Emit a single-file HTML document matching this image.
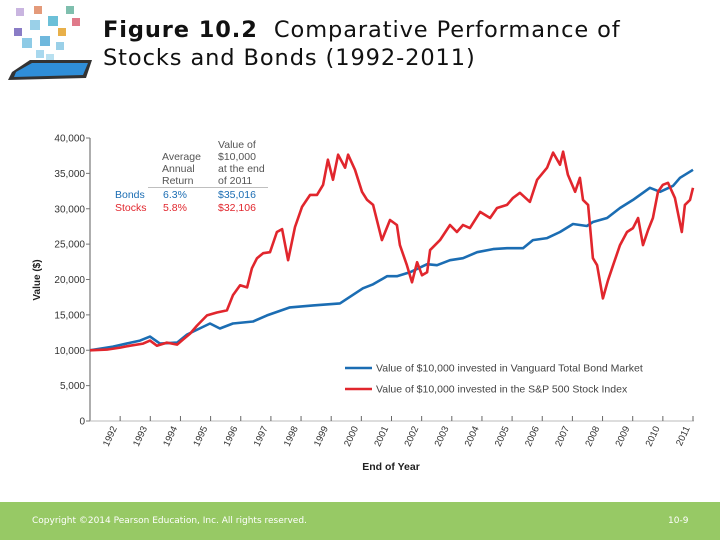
<!DOCTYPE html>
<html><head><meta charset="utf-8"><style>
body{margin:0;width:720px;height:540px;overflow:hidden;background:#fff;font-family:"DejaVu Sans","Liberation Sans",sans-serif;position:relative}
#title{position:absolute;left:103px;top:16px;font-size:22.5px;line-height:28px;color:#111;letter-spacing:0.9px}
#footer{position:absolute;left:0;top:502px;width:720px;height:38px;background:#97c965}
#footer span{position:absolute;top:14px;font-size:9px;color:#fff}
svg text{font-family:"Liberation Sans",sans-serif}
</style></head><body>
<svg width="100" height="90" style="position:absolute;left:0;top:0">
<polygon points="12,72 30,60 92,60 86,78 8,80" fill="#333"/>
<polygon points="16,72 32,63 88,63 83,75 14,77" fill="#2f8ed8"/>
<rect x="16" y="8" width="8" height="8" fill="#c9b5e0"/><rect x="34" y="6" width="8" height="8" fill="#e49a7a"/>
<rect x="66" y="6" width="8" height="8" fill="#7fbfae"/><rect x="72" y="18" width="8" height="8" fill="#e07a8a"/>
<rect x="14" y="28" width="8" height="8" fill="#8a7cc6"/><rect x="30" y="20" width="10" height="10" fill="#9ad0e8"/>
<rect x="48" y="16" width="10" height="10" fill="#6cc0d8"/><rect x="58" y="28" width="8" height="8" fill="#e8b04a"/>
<rect x="22" y="38" width="10" height="10" fill="#8ecbe6"/><rect x="40" y="36" width="10" height="10" fill="#6fb8dd"/>
<rect x="56" y="42" width="8" height="8" fill="#9ad0e8"/><rect x="36" y="50" width="8" height="8" fill="#a8d8ee"/>
<rect x="46" y="54" width="8" height="6" fill="#b8e0f0"/>
</svg>
<div id="title"><b>Figure 10.2</b>&nbsp; Comparative Performance of<br>Stocks and Bonds (1992-2011)</div>
<svg id="chart" width="720" height="500" style="position:absolute;left:0;top:0"></svg>
<div id="footer">
<span style="left:32px">Copyright ©2014 Pearson Education, Inc. All rights reserved.</span>
<span style="left:668px">10-9</span>
</div>
<script>
const yTicks=[0,5000,10000,15000,20000,25000,30000,35000,40000];
const yearLabels=[1992,1993,1994,1995,1996,1997,1998,1999,2000,2001,2002,2003,2004,2005,2006,2007,2008,2009,2010,2011];
const stockT=[1991.0,1991.56,1992.0,1992.33,1992.76,1992.99,1993.22,1993.55,1993.89,1994.08,1994.32,1994.55,1994.88,1995.21,1995.54,1995.74,1995.98,1996.21,1996.37,1996.54,1996.74,1996.97,1997.2,1997.37,1997.57,1997.8,1998.03,1998.3,1998.53,1998.73,1998.89,1999.06,1999.23,1999.46,1999.56,1999.79,2000.02,2000.19,2000.39,2000.68,2000.95,2001.18,2001.28,2001.51,2001.68,2001.85,2002.01,2002.18,2002.28,2002.61,2002.94,2003.17,2003.37,2003.6,2003.94,2004.27,2004.5,2004.83,2005.03,2005.26,2005.59,2005.83,2006.16,2006.36,2006.59,2006.69,2006.85,2007.09,2007.25,2007.35,2007.52,2007.68,2007.82,2007.92,2008.01,2008.18,2008.35,2008.58,2008.81,2009.01,2009.18,2009.34,2009.51,2009.67,2009.84,2010.0,2010.17,2010.4,2010.63,2010.73,2010.9,2011.0];
const stockV=[10000,10090,10370,10650,10940,11360,10650,11080,10800,11510,12360,13490,14920,15340,15630,17760,19180,18890,21590,23010,23720,23860,26710,27130,22730,27420,30260,31960,31960,33380,36930,34090,37640,35800,37640,35510,32390,31250,30540,25570,28410,27700,24860,22020,19600,22440,20600,21020,24150,25570,27700,26710,27700,27270,29550,28690,30110,30540,31540,32250,30970,34090,35800,37930,36220,38070,34800,32390,34380,31250,30540,23010,22020,19600,17330,19890,22020,24860,26710,27270,28690,24860,26990,28690,32390,33380,33670,31540,26710,30540,31250,32960];
const bondT=[1991.0,1991.76,1992.66,1992.99,1993.32,1993.89,1994.22,1994.98,1995.31,1995.74,1996.41,1996.87,1997.63,1998.4,1999.29,2000.05,2000.39,2000.85,2001.18,2001.61,2002.18,2002.51,2002.94,2003.37,2003.84,2004.37,2004.83,2005.36,2005.69,2006.16,2006.59,2007.02,2007.48,2007.68,2008.15,2008.58,2009.01,2009.57,2009.91,2010.34,2010.57,2011.0];
const bondV=[10000,10510,11360,11930,10940,11080,12220,13780,13070,13780,14060,14920,16050,16340,16620,18750,19320,20460,20460,21020,22160,22020,22730,23010,23860,24290,24430,24430,25570,25850,26710,27840,27560,28130,28690,30110,31250,32960,32390,33240,34380,35510];
const svg=document.getElementById('chart');const NS='http://www.w3.org/2000/svg';
const X=t=>90+(t-1991)*30.15, Y=v=>421-(v/40000)*283;
function mk(tag,attrs,parent){const e=document.createElementNS(NS,tag);for(const k in attrs)e.setAttribute(k,attrs[k]);(parent||svg).appendChild(e);return e;}
let e=mk('line',{x1:90,y1:Y(40000),x2:90,y2:421,stroke:'#777','stroke-width':1.2});


e=mk('line',{x1:90,y1:421,x2:694,y2:421,stroke:'#bbb','stroke-width':1});


yTicks.forEach(v=>{
 mk('line',{x1:86,x2:90,y1:Y(v),y2:Y(v),stroke:'#777'});
 const t=mk('text',{x:85,y:Y(v)+3.5,'text-anchor':'end','font-size':10,fill:'#333'});t.textContent=v.toLocaleString('en-US');
 
 
});
yearLabels.forEach(yr=>{
 const x=X(yr);mk('line',{x1:x,x2:x,y1:416,y2:421,stroke:'#666'});
 const t=mk('text',{transform:`translate(${x-3},${428}) rotate(-65)`,'text-anchor':'end','font-size':9.5,fill:'#333'});t.textContent=yr;
 
 
});
e=mk('text',{x:391,y:470,'text-anchor':'middle','font-size':10.5,'font-weight':'bold',fill:'#222'});e.textContent='End of Year';


e=mk('text',{transform:'translate(40,280) rotate(-90)','text-anchor':'middle','font-size':10,'font-weight':'bold',fill:'#222'});e.textContent='Value ($)';


function line(T,V,c,name){const d=T.map((t,i)=>(i?'L':'M')+X(t).toFixed(1)+','+Y(V[i]).toFixed(1)).join('');
 const p=mk('path',{d:d,fill:'none',stroke:c,'stroke-width':2.6,'stroke-linejoin':'round'});
 
 }
line(bondT,bondV,'#1b6db3','bond-series');
line(stockT,stockV,'#e1262d','stock-series');
[['#1b6db3','Value of $10,000 invested in Vanguard Total Bond Market',368],['#e1262d','Value of $10,000 invested in the S&P 500 Stock Index',389]].forEach(l=>{
 const g=mk('g',{});
 
 
 mk('line',{x1:345,x2:372,y1:l[2],y2:l[2],stroke:l[0],'stroke-width':2.6},g);
 const t=mk('text',{x:376,y:l[2]+3.5,'font-size':10.5,fill:'#444'},g);t.textContent=l[1];
});
const ann=mk('g',{'font-size':10.5});


[['Value of',218,148],['$10,000',218,160],['at the end',218,172],['of 2011',218,184],['Average',162,160],['Annual',162,172],['Return',162,184]].forEach(a=>{const t=mk('text',{x:a[1],y:a[2],fill:'#555'},ann);t.textContent=a[0];});
mk('line',{x1:148,x2:268,y1:187.5,y2:187.5,stroke:'#aaa','stroke-width':0.8},ann);
[['Bonds',115,198,'#1b6db3'],['6.3%',163,198,'#1b6db3'],['$35,016',218,198,'#1b6db3'],['Stocks',115,211,'#e1262d'],['5.8%',163,211,'#e1262d'],['$32,106',218,211,'#e1262d']].forEach(a=>{const t=mk('text',{x:a[1],y:a[2],fill:a[3]},ann);t.textContent=a[0];});
</script>
</body></html>
